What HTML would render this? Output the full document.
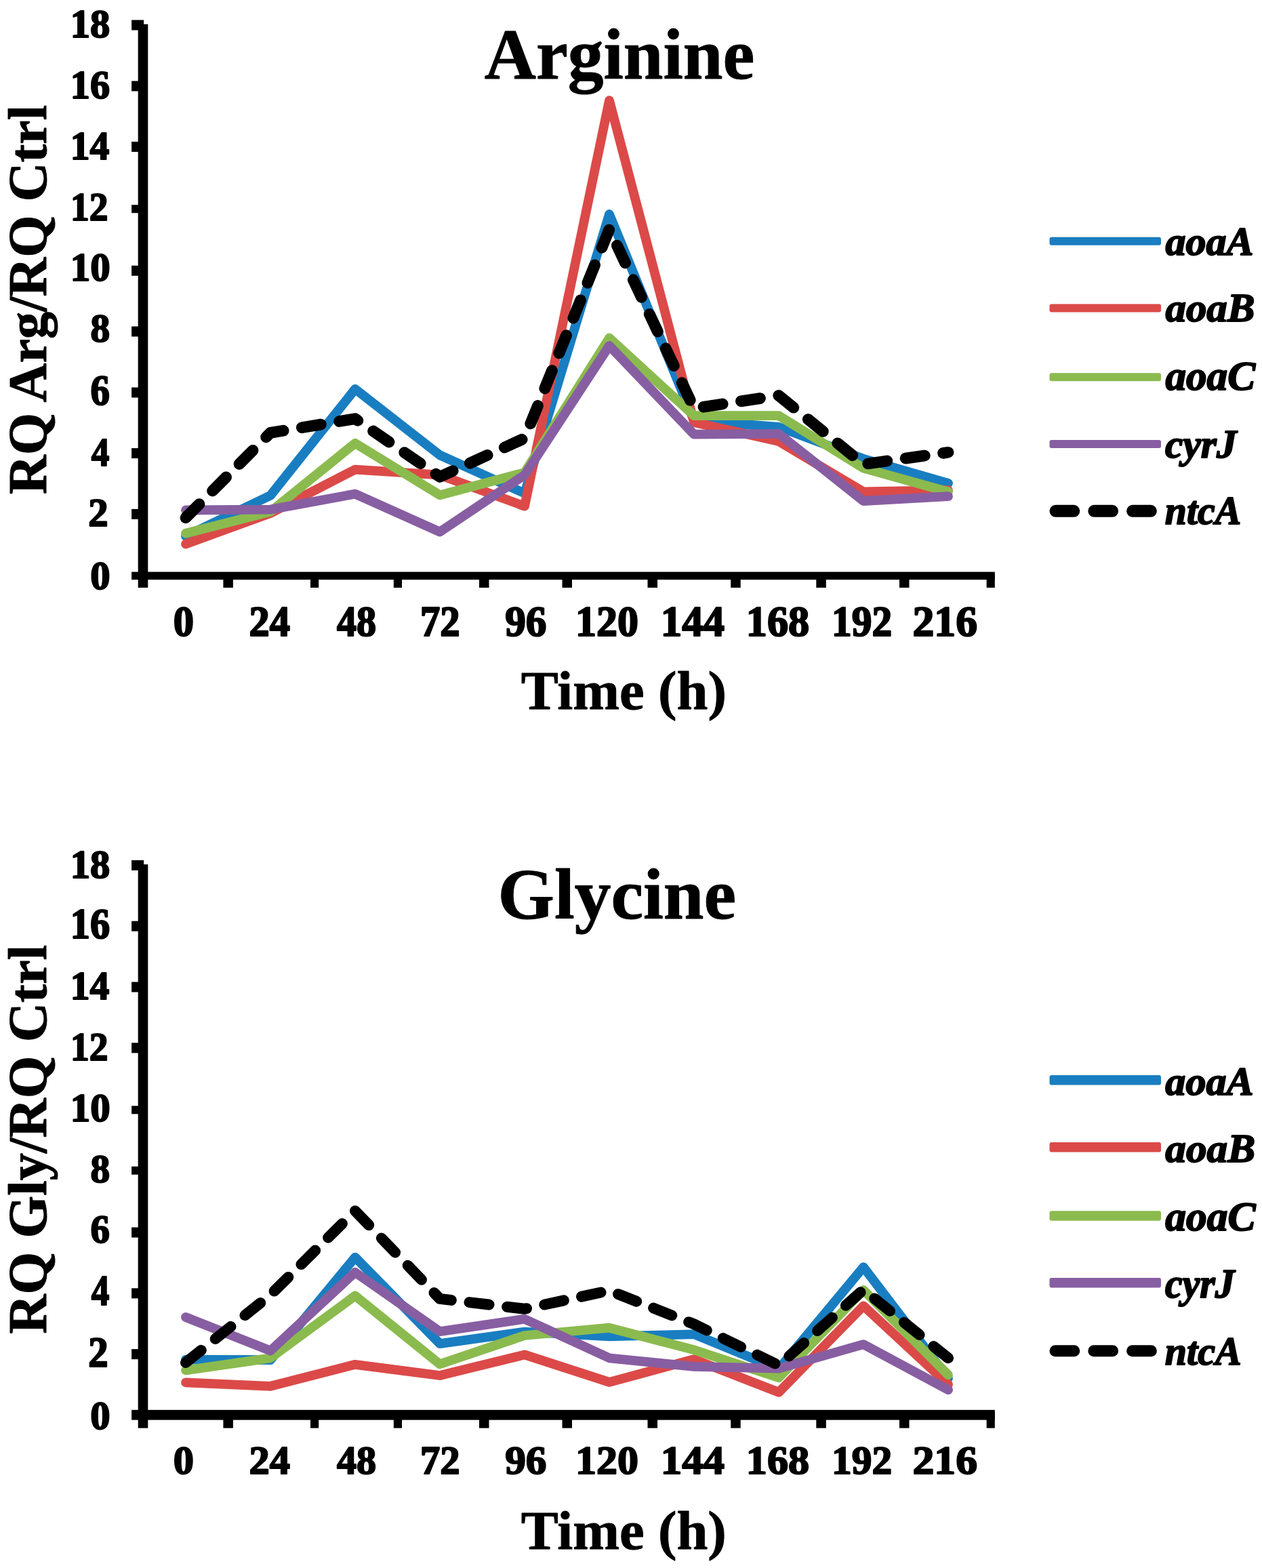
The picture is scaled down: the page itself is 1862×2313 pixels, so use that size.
<!DOCTYPE html>
<html><head><meta charset="utf-8"><title>Arginine / Glycine</title>
<style>
html,body{margin:0;padding:0;background:#fff;}
body{width:1862px;height:2313px;overflow:hidden;}
svg{display:block;}
svg text{font-family:"Liberation Serif","Times New Roman",serif;font-weight:bold;fill:#000;stroke:#000;stroke-linejoin:round;}
</style></head><body>
<svg width="1862" height="2313" viewBox="0 0 1862 2313">
<rect x="0" y="0" width="1862" height="2313" fill="#fff"/>
<g id="chart1">
<g fill="none" stroke-linejoin="round" stroke-linecap="round">
<polyline points="274.0,790.9 399.0,730.9 524.0,573.9 649.0,671.4 774.0,727.7 899.0,316.0 1024.0,620.4 1149.0,629.9 1274.0,676.8 1399.0,712.8" stroke="#197ec1" stroke-width="13.8"/>
<polyline points="274.0,802.6 399.0,757.0 524.0,692.6 649.0,700.7 774.0,746.7 899.0,148.2 1024.0,623.1 1149.0,651.1 1274.0,725.5 1399.0,723.2" stroke="#db4a48" stroke-width="13.8"/>
<polyline points="274.0,786.8 399.0,754.8 524.0,653.8 649.0,730.4 774.0,697.1 899.0,498.6 1024.0,613.2 1149.0,613.2 1274.0,690.7 1399.0,725.5" stroke="#8bbb4e" stroke-width="13.8"/>
<polyline points="274.0,752.5 399.0,751.6 524.0,728.6 649.0,784.6 774.0,700.7 899.0,509.9 1024.0,640.7 1149.0,639.8 1274.0,739.0 1399.0,732.2" stroke="#885ea2" stroke-width="13.8"/>
<polyline points="274.0,763.8 399.0,638.4 524.0,617.7 649.0,703.4 774.0,646.5 899.0,338.1 1024.0,602.4 1149.0,583.4 1274.0,684.9 1399.0,667.3" stroke="#000" stroke-width="16.8" stroke-dasharray="28.4 27.6"/>
</g>
<rect x="203.7" y="35.7" width="14.6" height="831.2"/>
<rect x="194.1" y="843.6" width="1273.7" height="11.5"/>
<rect x="194.1" y="750.9" width="10" height="15"/>
<rect x="194.1" y="661.1" width="10" height="15"/>
<rect x="194.1" y="571.5" width="10" height="15"/>
<rect x="194.1" y="481.5" width="10" height="15"/>
<rect x="194.1" y="391.8" width="10" height="15"/>
<rect x="194.1" y="302.2" width="10" height="12"/>
<rect x="194.1" y="209.0" width="10" height="15"/>
<rect x="194.1" y="119.5" width="10" height="15"/>
<rect x="194.1" y="29.5" width="18" height="15"/>
<rect x="329.4" y="846.6" width="14.5" height="20.3"/>
<rect x="458.0" y="846.6" width="12.2" height="20.3"/>
<rect x="580.8" y="846.6" width="12.2" height="20.3"/>
<rect x="707.0" y="846.6" width="14.5" height="20.3"/>
<rect x="829.5" y="846.6" width="14.5" height="20.3"/>
<rect x="955.5" y="846.6" width="14.5" height="20.3"/>
<rect x="1078.2" y="846.6" width="14.5" height="20.3"/>
<rect x="1204.3" y="846.6" width="14.5" height="20.3"/>
<rect x="1327.0" y="846.6" width="14.5" height="20.3"/>
<rect x="1455.6" y="846.6" width="12.2" height="20.3"/>
<g class="t">
<text transform="translate(133.25,869.20) scale(0.9335,0.9382)" font-size="63.00" stroke-width="2.2" style="">0</text>
<text transform="translate(130.25,776.40) scale(0.9335,0.9405)" font-size="63.00" stroke-width="2.2" style="">2</text>
<text transform="translate(134.80,686.60) scale(0.8431,0.9405)" font-size="63.00" stroke-width="2.2" style="">4</text>
<text transform="translate(133.61,596.78) scale(0.9013,1.0116)" font-size="63.00" stroke-width="2.2" style="">6</text>
<text transform="translate(133.59,504.30) scale(0.9118,0.9476)" font-size="63.00" stroke-width="2.2" style="">8</text>
<text transform="translate(103.68,414.30) scale(0.9361,0.9382)" font-size="63.00" stroke-width="2.2" style="">10</text>
<text transform="translate(103.95,324.50) scale(0.8820,0.9382)" font-size="63.00" stroke-width="2.2" style="">12</text>
<text transform="translate(103.79,234.70) scale(0.9153,0.9382)" font-size="63.00" stroke-width="2.2" style="">14</text>
<text transform="translate(103.73,145.10) scale(0.9256,0.9429)" font-size="63.00" stroke-width="2.2" style="">16</text>
<text transform="translate(103.71,55.30) scale(0.9309,0.9429)" font-size="63.00" stroke-width="2.2" style="">18</text>
<text transform="translate(255.78,938.08) scale(0.9599,1.0140)" font-size="63.00" stroke-width="2.2" style="">0</text>
<text transform="translate(367.48,938.08) scale(0.9591,1.0140)" font-size="63.00" stroke-width="2.2" style="">24</text>
<text transform="translate(496.93,938.08) scale(0.9240,1.0140)" font-size="63.00" stroke-width="2.2" style="">48</text>
<text transform="translate(619.97,938.08) scale(0.9313,1.0140)" font-size="63.00" stroke-width="2.2" style="">72</text>
<text transform="translate(745.17,938.08) scale(0.9725,1.0140)" font-size="63.00" stroke-width="2.2" style="">96</text>
<text transform="translate(849.04,938.08) scale(0.9834,1.0140)" font-size="63.00" stroke-width="2.2" style="">120</text>
<text transform="translate(974.67,938.08) scale(0.9989,1.0140)" font-size="63.00" stroke-width="2.2" style="">144</text>
<text transform="translate(1100.82,938.08) scale(0.9879,1.0140)" font-size="63.00" stroke-width="2.2" style="">168</text>
<text transform="translate(1227.05,938.08) scale(0.9420,1.0140)" font-size="63.00" stroke-width="2.2" style="">192</text>
<text transform="translate(1346.55,938.08) scale(1.0101,1.0140)" font-size="63.00" stroke-width="2.2" style="">216</text>
</g>
<g class="h">
<text transform="translate(714.85,115.70) scale(0.9995,1.0000)" font-size="105.50" stroke-width="1.0" style="">Arginine</text>
<text transform="translate(768.86,1046.30) scale(0.9931,0.9604)" font-size="83.00" stroke-width="1.0" style="">Time (h)</text>
<text transform="translate(68.00,729.20) rotate(-90) scale(0.9654,0.9708)" font-size="83.00" stroke-width="1.0" style="">RQ Arg/RQ Ctrl</text>
</g>
<rect x="1548.5" y="349.8" width="164.5" height="12" rx="3" fill="#197ec1"/>
<g class="t"><text transform="translate(1719.40,375.70) scale(0.9859,0.9861)" font-size="61.00" stroke-width="2.0" style="font-style:italic;">aoaA</text></g>
<rect x="1548.5" y="448.6" width="164.5" height="12" rx="3" fill="#db4a48"/>
<g class="t"><text transform="translate(1719.39,474.20) scale(0.9998,0.9861)" font-size="61.00" stroke-width="2.0" style="font-style:italic;">aoaB</text></g>
<rect x="1548.5" y="550.3" width="164.5" height="12" rx="3" fill="#8bbb4e"/>
<g class="t"><text transform="translate(1719.39,574.50) scale(1.0033,0.9935)" font-size="61.00" stroke-width="2.0" style="font-style:italic;">aoaC</text></g>
<rect x="1548.5" y="649.0" width="164.5" height="12" rx="3" fill="#885ea2"/>
<g class="t"><text transform="translate(1719.11,674.50) scale(0.9735,0.9861)" font-size="61.00" stroke-width="2.0" style="font-style:italic;">cyrJ</text></g>
<line x1="1557.5" y1="753.8" x2="1713" y2="753.8" stroke="#000" stroke-width="18" stroke-linecap="round" stroke-dasharray="26.8 30.0"/>
<g class="t"><text transform="translate(1718.84,773.30) scale(0.9479,0.9687)" font-size="61.00" stroke-width="2.0" style="font-style:italic;">ntcA</text></g>
</g>
<g id="chart2">
<g fill="none" stroke-linejoin="round" stroke-linecap="round">
<polyline points="274.0,2005.6 399.0,2006.0 524.0,1854.7 649.0,1982.2 774.0,1964.6 899.0,1971.3 1024.0,1968.2 1149.0,2019.5 1274.0,1869.1 1399.0,2033.1" stroke="#197ec1" stroke-width="13.8"/>
<polyline points="274.0,2039.4 399.0,2044.8 524.0,2012.8 649.0,2029.0 774.0,1998.4 899.0,2038.9 1024.0,2005.1 1149.0,2053.8 1274.0,1926.3 1399.0,2042.1" stroke="#db4a48" stroke-width="13.8"/>
<polyline points="274.0,2021.3 399.0,2003.3 524.0,1911.4 649.0,2012.3 774.0,1970.0 899.0,1958.7 1024.0,1991.2 1149.0,2032.2 1274.0,1902.9 1399.0,2028.1" stroke="#8bbb4e" stroke-width="13.8"/>
<polyline points="274.0,1943.0 399.0,1992.5 524.0,1876.8 649.0,1964.1 774.0,1945.7 899.0,2003.3 1024.0,2015.9 1149.0,2018.6 1274.0,1983.1 1399.0,2050.2" stroke="#885ea2" stroke-width="13.8"/>
<polyline points="274.0,2010.1 399.0,1910.1 524.0,1786.2 649.0,1915.9 774.0,1930.8 899.0,1903.8 1024.0,1953.3 1149.0,2014.1 1274.0,1902.4 1399.0,2003.3" stroke="#000" stroke-width="16.0" stroke-dasharray="29.2 26.8"/>
</g>
<rect x="203.7" y="1275.1" width="14.6" height="831.5"/>
<rect x="194.1" y="2079.8" width="1273.7" height="14.8"/>
<rect x="194.1" y="1990.1" width="10" height="15"/>
<rect x="194.1" y="1900.3" width="10" height="15"/>
<rect x="194.1" y="1810.5" width="10" height="15"/>
<rect x="194.1" y="1720.7" width="10" height="12"/>
<rect x="194.1" y="1631.3" width="10" height="12"/>
<rect x="194.1" y="1538.3" width="10" height="15"/>
<rect x="194.1" y="1448.5" width="10" height="15"/>
<rect x="194.1" y="1358.7" width="10" height="15"/>
<rect x="194.1" y="1268.9" width="18" height="15"/>
<rect x="329.4" y="2082.8" width="14.5" height="23.8"/>
<rect x="458.0" y="2082.8" width="12.2" height="23.8"/>
<rect x="580.8" y="2082.8" width="12.2" height="23.8"/>
<rect x="707.0" y="2082.8" width="14.5" height="23.8"/>
<rect x="829.5" y="2082.8" width="14.5" height="23.8"/>
<rect x="955.5" y="2082.8" width="14.5" height="23.8"/>
<rect x="1078.2" y="2082.8" width="14.5" height="23.8"/>
<rect x="1204.3" y="2082.8" width="14.5" height="23.8"/>
<rect x="1327.0" y="2082.8" width="14.5" height="23.8"/>
<rect x="1455.6" y="2082.8" width="12.2" height="23.8"/>
<g class="t">
<text transform="translate(133.25,2108.20) scale(0.9335,0.9382)" font-size="63.00" stroke-width="2.2" style="">0</text>
<text transform="translate(130.25,2015.68) scale(0.9335,1.0116)" font-size="63.00" stroke-width="2.2" style="">2</text>
<text transform="translate(134.80,1925.48) scale(0.8431,1.0021)" font-size="63.00" stroke-width="2.2" style="">4</text>
<text transform="translate(133.61,1833.10) scale(0.9013,0.9500)" font-size="63.00" stroke-width="2.2" style="">6</text>
<text transform="translate(133.59,1743.50) scale(0.9118,0.9429)" font-size="63.00" stroke-width="2.2" style="">8</text>
<text transform="translate(103.68,1653.90) scale(0.9361,0.9476)" font-size="63.00" stroke-width="2.2" style="">10</text>
<text transform="translate(103.95,1563.70) scale(0.8820,0.9382)" font-size="63.00" stroke-width="2.2" style="">12</text>
<text transform="translate(103.79,1473.90) scale(0.9153,0.9382)" font-size="63.00" stroke-width="2.2" style="">14</text>
<text transform="translate(103.73,1384.48) scale(0.9256,1.0116)" font-size="63.00" stroke-width="2.2" style="">16</text>
<text transform="translate(103.71,1294.70) scale(0.9309,0.9476)" font-size="63.00" stroke-width="2.2" style="">18</text>
<text transform="translate(255.78,2174.20) scale(0.9599,0.9429)" font-size="63.00" stroke-width="2.2" style="">0</text>
<text transform="translate(367.48,2174.20) scale(0.9591,0.9429)" font-size="63.00" stroke-width="2.2" style="">24</text>
<text transform="translate(496.93,2174.20) scale(0.9240,0.9429)" font-size="63.00" stroke-width="2.2" style="">48</text>
<text transform="translate(619.97,2174.20) scale(0.9313,0.9429)" font-size="63.00" stroke-width="2.2" style="">72</text>
<text transform="translate(745.17,2174.20) scale(0.9725,0.9429)" font-size="63.00" stroke-width="2.2" style="">96</text>
<text transform="translate(849.04,2174.20) scale(0.9834,0.9429)" font-size="63.00" stroke-width="2.2" style="">120</text>
<text transform="translate(974.67,2174.20) scale(0.9989,0.9429)" font-size="63.00" stroke-width="2.2" style="">144</text>
<text transform="translate(1100.82,2174.20) scale(0.9879,0.9429)" font-size="63.00" stroke-width="2.2" style="">168</text>
<text transform="translate(1227.05,2174.20) scale(0.9420,0.9429)" font-size="63.00" stroke-width="2.2" style="">192</text>
<text transform="translate(1346.55,2174.20) scale(1.0101,0.9429)" font-size="63.00" stroke-width="2.2" style="">216</text>
</g>
<g class="h">
<text transform="translate(734.54,1354.70) scale(1.0168,1.0000)" font-size="105.50" stroke-width="1.0" style="">Glycine</text>
<text transform="translate(768.86,2285.40) scale(0.9931,0.9621)" font-size="83.00" stroke-width="1.0" style="">Time (h)</text>
<text transform="translate(68.00,1967.71) rotate(-90) scale(0.9727,0.9708)" font-size="83.00" stroke-width="1.0" style="">RQ Gly/RQ Ctrl</text>
</g>
<rect x="1548.5" y="1586.0" width="164.5" height="14.5" rx="3" fill="#197ec1"/>
<g class="t"><text transform="translate(1719.30,1614.80) scale(0.9867,0.9786)" font-size="61.00" stroke-width="2.0" style="font-style:italic;">aoaA</text></g>
<rect x="1548.5" y="1685.0" width="164.5" height="14.5" rx="3" fill="#db4a48"/>
<g class="t"><text transform="translate(1719.29,1713.70) scale(1.0045,0.9811)" font-size="61.00" stroke-width="2.0" style="font-style:italic;">aoaB</text></g>
<rect x="1548.5" y="1786.2" width="164.5" height="14.5" rx="3" fill="#8bbb4e"/>
<g class="t"><text transform="translate(1719.29,1815.00) scale(1.0078,1.0084)" font-size="61.00" stroke-width="2.0" style="font-style:italic;">aoaC</text></g>
<rect x="1548.5" y="1885.0" width="164.5" height="14.5" rx="3" fill="#885ea2"/>
<g class="t"><text transform="translate(1719.03,1914.00) scale(0.9469,0.9960)" font-size="61.00" stroke-width="2.0" style="font-style:italic;">cyrJ</text></g>
<line x1="1557.0" y1="1992.8" x2="1713" y2="1992.8" stroke="#000" stroke-width="17" stroke-linecap="round" stroke-dasharray="27.8 29.0"/>
<g class="t"><text transform="translate(1718.74,2013.00) scale(0.9523,0.9836)" font-size="61.00" stroke-width="2.0" style="font-style:italic;">ntcA</text></g>
</g>
</svg>
</body></html>
